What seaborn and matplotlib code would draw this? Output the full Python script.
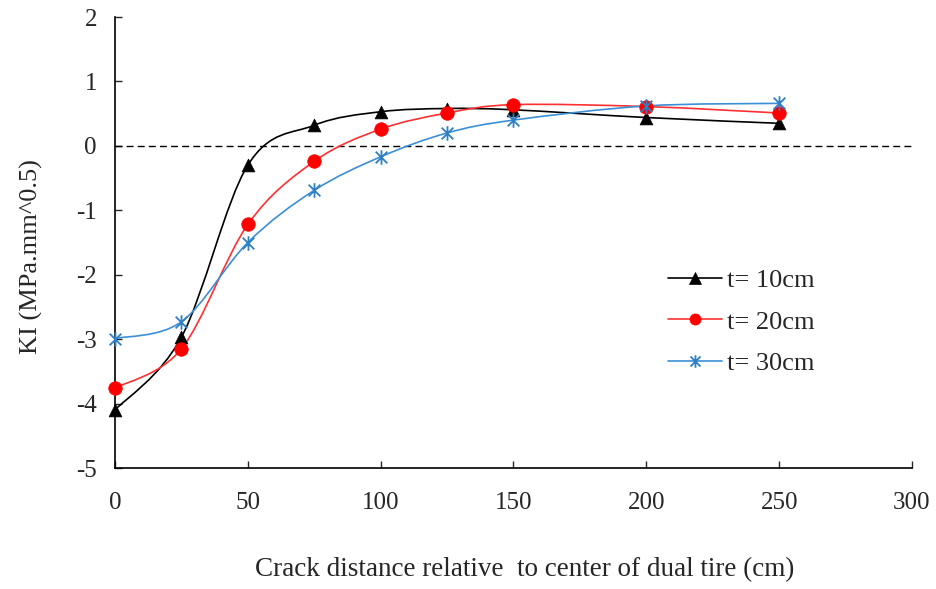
import numpy as np
import pandas as pd
import matplotlib
matplotlib.use("Agg")
import matplotlib.pyplot as plt
import seaborn as sns
from matplotlib.path import Path
from matplotlib.patches import PathPatch
from matplotlib.lines import Line2D

# ---- data ----
distance = [0, 25, 50, 75, 100, 125, 150, 200, 250]
ki_t10 = [-4.10, -2.97, -0.30, 0.32, 0.53, 0.58, 0.56, 0.44, 0.35]
ki_t20 = [-3.76, -3.15, -1.22, -0.24, 0.26, 0.51, 0.64, 0.61, 0.51]
ki_t30 = [-2.99, -2.73, -1.50, -0.69, -0.17, 0.20, 0.40, 0.62, 0.66]
series_labels = ["t= 10cm", "t= 20cm", "t= 30cm"]
x_ticks = [0, 50, 100, 150, 200, 250, 300]
y_ticks = [-5, -4, -3, -2, -1, 0, 1, 2]

sns.set_style("ticks")
plt.rcParams["font.family"] = ["Liberation Serif", "DejaVu Serif"]
plt.rcParams["axes.unicode_minus"] = False

fig = plt.figure(figsize=(9.37, 5.89), dpi=100)
ax = fig.add_axes([0.1227, 0.2054, 0.8506, 0.7657])

# custom asterisk marker (vertical bar + X)
star_path = Path(
    [(0, -1), (0, 1), (-0.8, -0.8), (0.8, 0.8), (-0.8, 0.8), (0.8, -0.8)],
    [Path.MOVETO, Path.LINETO, Path.MOVETO, Path.LINETO, Path.MOVETO, Path.LINETO],
)


def smooth_path(xs, ys):
    pts = np.column_stack([xs, ys]).astype(float)
    n = len(pts)
    verts = [pts[0]]
    codes = [Path.MOVETO]
    for i in range(n - 1):
        p0 = pts[i - 1] if i > 0 else pts[i]
        p1 = pts[i]
        p2 = pts[i + 1]
        p3 = pts[i + 2] if i + 2 < n else pts[i + 1]
        c1 = p1 + (p2 - p0) / 6.0
        c2 = p2 - (p3 - p1) / 6.0
        verts += [c1, c2, p2]
        codes += [Path.CURVE4] * 3
    return Path(verts, codes)


styles = [
    dict(color="black", line="#000000", marker="^", ms=85, edge="black", lw=0.5, lms=8),
    dict(color="#ff0000", line="#ff3030", marker="o", ms=95, edge="#ff0000", lw=0.5, lms=8),
    dict(color="#2e7fc4", line="#3b8fd6", marker=star_path, ms=110, edge="#2e7fc4", lw=1.3, lms=9),
]
all_y = [ki_t10, ki_t20, ki_t30]

ax.axhline(0, color="black", lw=1.0, ls=(0, (5, 3)), zorder=1)

handles = []
for ys, st, lab in zip(all_y, styles, series_labels):
    patch = PathPatch(smooth_path(distance, ys), facecolor="none",
                      edgecolor=st["line"], lw=1.2, zorder=2)
    ax.add_patch(patch)
    df = pd.DataFrame({"x": distance, "y": ys})
    sns.scatterplot(data=df, x="x", y="y", ax=ax, marker=st["marker"],
                    s=st["ms"], color=st["color"], edgecolor=st["edge"],
                    linewidth=st["lw"], zorder=3, legend=False, clip_on=False)
    handles.append(Line2D([0], [0], color=st["line"], lw=1.2,
                          marker=st["marker"], markersize=st["lms"],
                          markerfacecolor=st["color"], markeredgecolor=st["edge"],
                          markeredgewidth=st["lw"], label=lab))

ax.set_xlim(0, 300)
ax.set_ylim(-5, 2)
ax.set_xticks(x_ticks)
ax.set_yticks(y_ticks)
ax.tick_params(direction="in", length=5, width=1, labelsize=18)
ax.tick_params(axis="x", pad=17)
ax.tick_params(axis="y", pad=13)
for s in ["top", "right"]:
    ax.spines[s].set_visible(False)
for s in ["left", "bottom"]:
    ax.spines[s].set_linewidth(1.2)
    ax.spines[s].set_color("black")

ax.set_xlabel("Crack distance relative  to center of dual tire (cm)", fontsize=19.5)
ax.xaxis.set_label_coords(0.514, -0.198)
ax.set_ylabel("KI (MPa.mm^0.5)", fontsize=19)
ax.yaxis.set_label_coords(-0.09, 0.468)

ax.legend(handles=handles, loc="center left", bbox_to_anchor=(0.694, 0.324),
          frameon=False, fontsize=19, handlelength=2.05, labelspacing=0.68,
          handletextpad=0.2, borderpad=0, borderaxespad=0)

fig.savefig("out.png", dpi=100)
